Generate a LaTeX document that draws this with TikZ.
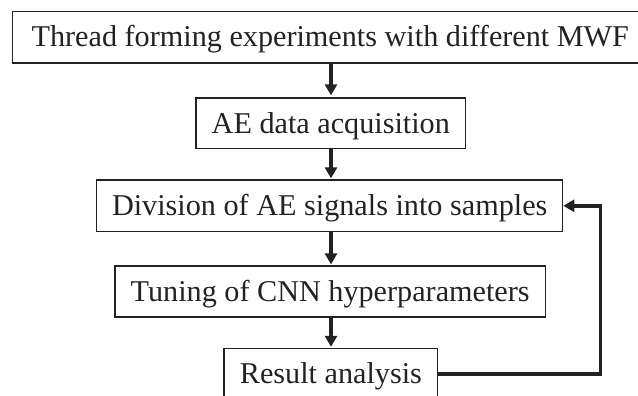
\documentclass[tikz,border=0pt]{standalone}
\usepackage{fontspec}
\setmainfont{Liberation Serif}
\usetikzlibrary{arrows.meta}
\definecolor{ink}{HTML}{222222}
\tikzset{
  flowbox/.style={draw=ink, line width=1.2pt, inner sep=0pt, align=center,
    text height=24pt, text depth=4.6pt,
    font=\fontsize{30.2}{35}\selectfont, text=ink},
  flowarrow/.style={draw=ink, line width=3.4pt,
    -{Triangle[length=11pt,width=12pt]}},
}
\begin{document}
\begin{tikzpicture}[x=1pt,y=-1pt]
\clip (0,0) rectangle (638,396);
\node[flowbox, minimum width=635.3pt, minimum height=51.3pt] (b1) at (330.3,37.3) {Thread forming experiments with different MWF};
\node[flowbox, minimum width=269.5pt, minimum height=50.7pt] (b2) at (330.8,123.3) {AE data acquisition};
\node[flowbox, minimum width=466pt, minimum height=51.7pt] (b3) at (329.7,205.8) {Division of AE signals into samples};
\node[flowbox, minimum width=430.5pt, minimum height=51pt] (b4) at (330.2,291.5) {Tuning of CNN hyperparameters};
\node[flowbox, minimum width=213.8pt, minimum height=51pt] (b5) at (330.9,373.9) {Result analysis};
\coordinate (c1) at (331,0);
\draw[flowarrow, shorten >=2pt] (b1.south -| c1) -- (b2.north -| c1);
\draw[flowarrow, shorten >=1pt] (b2.south -| c1) -- (b3.north -| c1);
\draw[flowarrow, shorten >=1pt] (b3.south -| c1) -- (b4.north -| c1);
\draw[flowarrow, shorten >=1pt] (b4.south -| c1) -- (b5.north -| c1);
\coordinate (fb) at (600.5,0);
\draw[flowarrow] (b5.east) -- (b5.east -| fb) -- (b3.east -| fb) -- (b3.east);
\end{tikzpicture}
\end{document}
